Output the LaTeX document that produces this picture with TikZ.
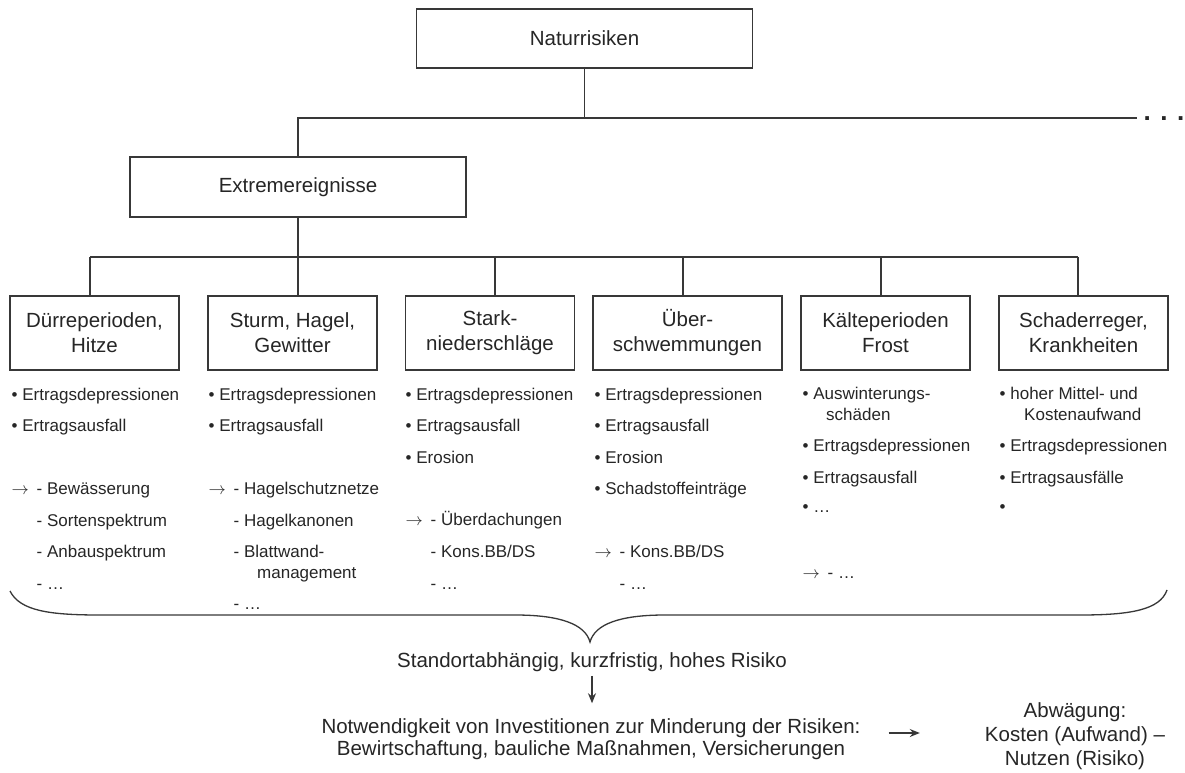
\documentclass[tikz,border=0pt]{standalone}
\usepackage{fontspec}
\setmainfont{Liberation Sans}
\usetikzlibrary{arrows.meta}
\definecolor{ink}{HTML}{262626}
\definecolor{stroke}{HTML}{383838}
\newcommand{\fbig}{\fontsize{20.5}{25}\selectfont}
\newcommand{\fmid}{\fontsize{20.5}{22}\selectfont}
\newcommand{\fabw}{\fontsize{20.5}{24}\selectfont}
\newcommand{\fsmall}{\fontsize{17}{20.5}\selectfont}
\newcommand{\itarrow}{\makebox[25pt][l]{$\rightarrow$}}
\newcommand{\itskip}{\makebox[25pt][l]{}}
\begin{document}
\begin{tikzpicture}[x=1pt,y=-1pt,
  box/.style={draw=stroke, line width=1.6pt, fill=white, text=ink, font=\fbig, align=center, inner sep=0pt},
  child/.style={box, minimum width=169pt, minimum height=74pt},
  item/.style={anchor=base west, inner sep=0pt, text=ink, font=\fsmall},
  wire/.style={draw=stroke, line width=1.3pt},
  tip/.style={-{Stealth[length=10pt,width=8pt]}}
]
\useasboundingbox[fill=white] (0,0) rectangle (1185,773);

% top levels
\node[box, minimum width=336pt, minimum height=59pt] (nat) at (584.5,38.5) {Naturrisiken};
\node[box, minimum width=336pt, minimum height=60pt] (ext) at (298,187) {Extremereignisse};
\coordinate (busR) at (1137,118);
\node[anchor=base, inner sep=0pt, text=ink, font=\fontsize{26}{26}\selectfont\bfseries] (more) at (1164,120.5) {. . .};
\draw[wire] (nat.south) -- (nat.south |- busR);
\draw[wire] (ext.north) |- (busR);

% children
\node[child] (e1) at (94.5,333) {Dürreperioden,\\Hitze};
\node[child] (e2) at (292.5,333) {Sturm, Hagel,\\Gewitter};
\node[child] (e3) at (490,333) {Stark-\\niederschläge};
\node[child, minimum width=189pt] (e4) at (687.5,333) {Über-\\schwemmungen};
\node[child] (e5) at (885.5,333) {Kälteperioden\\Frost};
\node[child] (e6) at (1083.5,333) {Schaderreger,\\Krankheiten};

\coordinate (b1) at (90,257);
\coordinate (b2) at (298,257);
\coordinate (b3) at (495,257);
\coordinate (b4) at (683,257);
\coordinate (b5) at (881,257);
\coordinate (b6) at (1078,257);
\draw[wire] (b1) -- (b6);
\draw[wire] (ext.south) -- (ext.south |- b1);
\foreach \i in {1,...,6} { \draw[wire] (b\i) -- (b\i |- e\i.north); }

% column 1
\node[item] (a1) at (11.5,400) {• Ertragsdepressionen};
\node[item] (a2) at (11.5,431) {• Ertragsausfall};
\node[item] (a3) at (11.5,494) {\itarrow- Bewässerung};
\node[item] (a4) at (11.5,526) {\itskip- Sortenspektrum};
\node[item] (a5) at (11.5,557) {\itskip- Anbauspektrum};
\node[item] (a6) at (11.5,589) {\itskip- …};
% column 2
\node[item] (c1) at (208.5,400) {• Ertragsdepressionen};
\node[item] (c2) at (208.5,431) {• Ertragsausfall};
\node[item] (c3) at (208.5,494) {\itarrow- Hagelschutznetze};
\node[item] (c4) at (208.5,526) {\itskip- Hagelkanonen};
\node[item] (c5) at (208.5,557) {\itskip- Blattwand-};
\node[item] (c6) at (257,578) {management};
\node[item] (c7) at (208.5,609) {\itskip- …};
% column 3
\node[item] (d1) at (405.5,400) {• Ertragsdepressionen};
\node[item] (d2) at (405.5,431) {• Ertragsausfall};
\node[item] (d3) at (405.5,463) {• Erosion};
\node[item] (d4) at (405.5,525) {\itarrow- Überdachungen};
\node[item] (d5) at (405.5,557) {\itskip- Kons.BB/DS};
\node[item] (d6) at (405.5,589) {\itskip- …};
% column 4
\node[item] (f1) at (594.5,400) {• Ertragsdepressionen};
\node[item] (f2) at (594.5,431) {• Ertragsausfall};
\node[item] (f3) at (594.5,463) {• Erosion};
\node[item] (f4) at (594.5,494) {• Schadstoffeinträge};
\node[item] (f5) at (594.5,557) {\itarrow- Kons.BB/DS};
\node[item] (f6) at (594.5,589) {\itskip- …};
% column 5
\node[item] (g1) at (802.5,399) {• Auswinterungs-};
\node[item] (g2) at (826,420) {schäden};
\node[item] (g3) at (802.5,451) {• Ertragsdepressionen};
\node[item] (g4) at (802.5,483) {• Ertragsausfall};
\node[item] (g5) at (802.5,512) {• …};
\node[item] (g6) at (802.5,578) {\itarrow- …};
% column 6
\node[item] (h1) at (999.5,399) {• hoher Mittel- und};
\node[item] (h2) at (1024,420) {Kostenaufwand};
\node[item] (h3) at (999.5,451) {• Ertragsdepressionen};
\node[item] (h4) at (999.5,483) {• Ertragsausfälle};
\node[item] (h5) at (999.5,512) {•};

% brace
\draw[wire] (10,591) .. controls (20,611) and (50,615) .. (100,615) -- (515,615)
  .. controls (560,615) and (585,624) .. (590,642)
  .. controls (595,624) and (620,615) .. (665,615) -- (1080,615)
  .. controls (1130,615) and (1160,610) .. (1167,590);

% bottom
\node[text=ink, font=\fbig, inner sep=0pt] (std) at (592,662) {Standortabhängig, kurzfristig, hohes Risiko};
\node[text=ink, font=\fmid, align=center, inner sep=0pt] (need) at (591,739) {Notwendigkeit von Investitionen zur Minderung der Risiken:\\Bewirtschaftung, bauliche Maßnahmen, Versicherungen};
\node[text=ink, font=\fabw, align=center, inner sep=0pt] (abw) at (1075,736) {Abwägung:\\Kosten (Aufwand) –\\Nutzen (Risiko)};
\draw[wire, tip, shorten <=4pt, shorten >=15pt] (std.south) -- (std.south |- need.north);
\draw[wire, tip, shorten <=28pt, shorten >=65pt] ([yshift=6pt]need.east) -- ([yshift=6pt]need.east -| abw.west);
\end{tikzpicture}
\end{document}
